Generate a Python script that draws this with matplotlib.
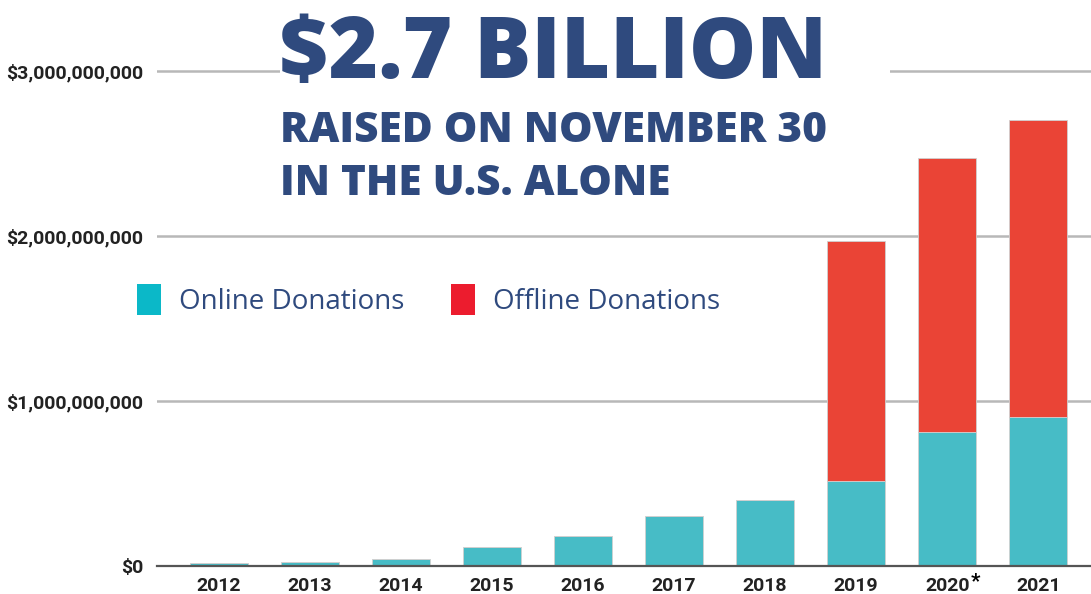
import matplotlib
matplotlib.use('Agg')
import matplotlib.pyplot as plt
from matplotlib.patches import Patch, Rectangle
import numpy as np

years = ['2012', '2013', '2014', '2015', '2016', '2017', '2018', '2019', '2020', '2021']
online = [0.016e9, 0.027e9, 0.044e9, 0.113e9, 0.18e9, 0.30e9, 0.40e9, 0.515e9, 0.81e9, 0.90e9]
offline = [0, 0, 0, 0, 0, 0, 0, 1.455e9, 1.66e9, 1.80e9]
yticks = [0, 1e9, 2e9, 3e9]
ytick_labels = ['$0', '$1,000,000,000', '$2,000,000,000', '$3,000,000,000']

ONLINE_C = '#47bcc6'
OFFLINE_C = '#ea4436'
NAVY = '#2f4a7e'
W, H = 1091, 594

fig = plt.figure(figsize=(W / 100, H / 100), dpi=100)
ax = fig.add_axes([157 / W, 28 / H, 1 - 157 / W, 1 - 28 / H])

x = np.arange(len(years))
ax.bar(x, online, width=0.64, color=ONLINE_C, zorder=3, edgecolor='#d0d0d0', linewidth=0.6)
ax.bar(x, offline, width=0.64, bottom=online, color=OFFLINE_C, zorder=3,
       edgecolor='#d0d0d0', linewidth=0.6)

ax.set_xlim(-0.68, 9.58)
ax.set_ylim(0, 3.43e9)
ax.set_yticks(yticks)
ax.set_yticklabels(ytick_labels, fontfamily='Roboto', fontweight='bold', fontsize=14, color='#222222')
ax.set_xticks(x)
ax.set_xticklabels(years, fontfamily='Roboto', fontweight='bold', fontsize=14, color='#222222')
ax.tick_params(axis='both', length=0)
ax.tick_params(axis='y', pad=10)
ax.tick_params(axis='x', pad=8)
for s in ['top', 'right', 'left']:
    ax.spines[s].set_visible(False)
ax.spines['bottom'].set_color('#555555')
ax.spines['bottom'].set_linewidth(1.6)
ax.spines['bottom'].set_zorder(4)
ax.yaxis.grid(True, color='#b8b8b8', linewidth=1.8, zorder=0)
ax.set_axisbelow(True)

# asterisk on 2020
ax.annotate('*', xy=(8, 0), xytext=(17, -11), textcoords='offset points',
            fontsize=15, fontweight='bold', fontfamily='Roboto', ha='left', va='center',
            annotation_clip=False)

# white block behind the headline to break the top gridline
fig.patches.append(Rectangle((280 / W, 1 - 82 / H), 610 / W, 22 / H,
                             transform=fig.transFigure, facecolor='white', edgecolor='none', zorder=5))
fig.text(279 / W, 1 - 78 / H, '$2.7 BILLION', fontsize=61, fontweight=800, fontfamily='Open Sans',
         color=NAVY, ha='left', va='baseline', zorder=6)
fig.text(280 / W, 1 - 142 / H, 'RAISED ON NOVEMBER 30', fontsize=30.5, fontweight=800,
         fontfamily='Open Sans', color=NAVY, ha='left', va='baseline', zorder=6)
fig.text(280 / W, 1 - 195 / H, 'IN THE U.S. ALONE', fontsize=30.5, fontweight=800,
         fontfamily='Open Sans', color=NAVY, ha='left', va='baseline', zorder=6)

handles = [Patch(facecolor='#0bb8c8', label='Online Donations'),
           Patch(facecolor='#ec1c2e', label='Offline Donations')]
leg = ax.legend(handles=handles, loc='center left', bbox_to_anchor=(-0.048, 0.47), ncol=2,
                frameon=False, handlelength=0.85, handleheight=1.3, handletextpad=0.65,
                columnspacing=1.7, prop={'family': 'Open Sans', 'size': 20})
for t in leg.get_texts():
    t.set_color(NAVY)

fig.savefig('out.png', dpi=100, facecolor='white')
